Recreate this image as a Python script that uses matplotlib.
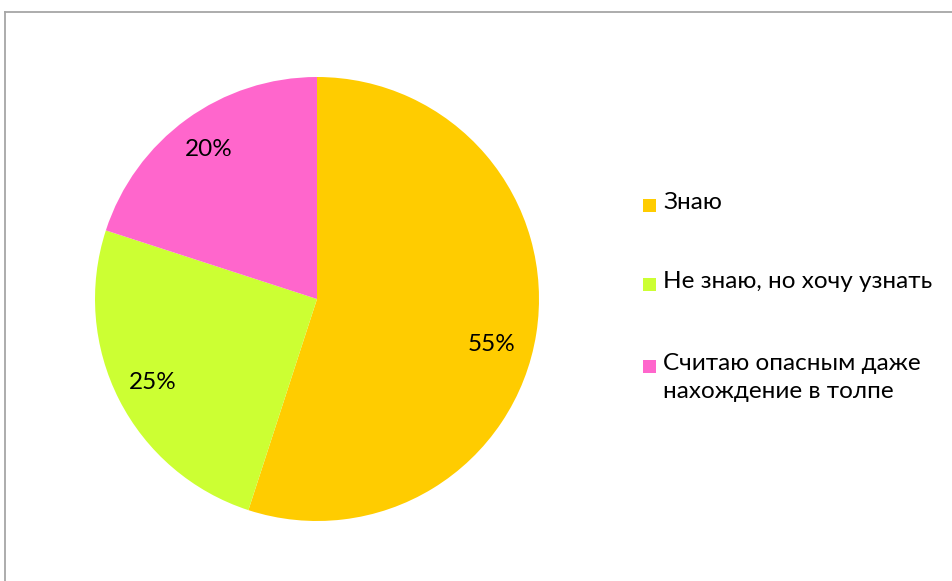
import matplotlib
matplotlib.use("Agg")
import matplotlib.pyplot as plt
import numpy as np
from matplotlib.patches import Rectangle
from matplotlib.lines import Line2D

categories = ["Знаю", "Не знаю, но хочу узнать", "Считаю опасным даже\nнахождение в толпе"]
shares = [55, 25, 20]
colors = ["#FFCC00", "#CCFF33", "#FF66CC"]

W, H = 953, 581
plt.rcParams["font.family"] = ["Lato", "Open Sans", "DejaVu Sans"]

fig = plt.figure(figsize=(W / 100, H / 100), dpi=100)
fig.patch.set_facecolor("white")


def fx(px):
    return px / W


def fy(py):
    return 1 - py / H


# pie area
cx, cy, r = 317, 299, 222
ax = fig.add_axes([fx(cx - r), fy(cy + r), 2 * r / W, 2 * r / H])
wedges, texts, autotexts = ax.pie(
    shares, colors=colors, startangle=90, counterclock=False,
    autopct=lambda p: f"{p:.0f}%", pctdistance=0.83,
    wedgeprops=dict(linewidth=0),
    textprops=dict(fontsize=17.5, color="#000000"),
)
# nudge the large slice's label a little lower along its arc
ang = np.deg2rad(-14.5)
autotexts[0].set_position((0.81 * np.cos(ang), 0.81 * np.sin(ang)))
ax.set_xlim(-1, 1)
ax.set_ylim(-1, 1)
ax.set_aspect("equal")
ax.axis("off")

# legend
rows = [205, 284, 366]
for lab, col, yc in zip(categories, colors, rows):
    fig.patches.append(Rectangle((fx(643), fy(yc + 6.5)), 13 / W, 13 / H,
                                 transform=fig.transFigure, facecolor=col,
                                 edgecolor="none"))
    fig.text(fx(663), fy(yc - 13), lab, ha="left", va="top", fontsize=17.5,
             color="#000000", linespacing=1.4)

# chart frame
fig.lines.append(Line2D([fx(5.5), fx(5.5)], [fy(11.5), 0], transform=fig.transFigure,
                        color="#A6A6A6", linewidth=1.3))
fig.lines.append(Line2D([fx(5.5), 1], [fy(11.5), fy(11.5)], transform=fig.transFigure,
                        color="#A6A6A6", linewidth=1.3))

fig.savefig("out.png", dpi=100, facecolor="white")
